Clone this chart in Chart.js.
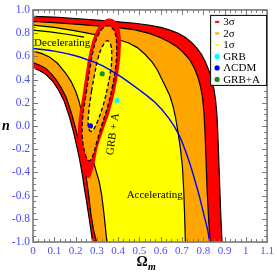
<!DOCTYPE html>
<html><head><meta charset="utf-8">
<script src="https://cdn.jsdelivr.net/npm/chart.js@4/dist/chart.umd.min.js"></script>
<style>html,body{margin:0;padding:0;background:#fff}#wrap{width:277px;height:274px}</style>
</head><body><div id="wrap"><canvas id="c" width="277" height="274"></canvas></div>
<script>
// ---- tick labels ----
const xTickLabels = ['0','0.1','0.2','0.3','0.4','0.5','0.6','0.7','0.8','0.9','1','1.1'];
const yTickLabels = ['-1.0','-0.8','-0.6','-0.4','-0.2','0.0','0.2','0.4','0.6','0.8','1.0'];
const legendLabels = ['3σ','2σ','1σ','GRB','ΛCDM','GRB+A'];

// ---- GRB-only confidence contours [Omega_m, n] ----
// upper-right boundaries (from Omega=0 down to n=-1)
const grbUpper3 = [[0,0.945],[0.1,0.937],[0.2,0.926],[0.3,0.912],[0.4,0.897],[0.48,0.885],[0.55,0.868],[0.6,0.85],[0.64,0.828],[0.68,0.80],[0.715,0.764],[0.745,0.72],[0.77,0.67],[0.792,0.615],[0.81,0.55],[0.826,0.48],[0.839,0.41],[0.85,0.32],[0.858,0.22],[0.864,0.1],[0.868,-0.05],[0.872,-0.25],[0.877,-0.5],[0.882,-0.75],[0.888,-1.0]];
const grbUpper2 = [[0,0.90],[0.1,0.89],[0.2,0.877],[0.3,0.862],[0.4,0.848],[0.48,0.828],[0.55,0.795],[0.6,0.76],[0.636,0.728],[0.67,0.69],[0.7,0.645],[0.72,0.605],[0.74,0.56],[0.76,0.49],[0.775,0.42],[0.787,0.34],[0.796,0.25],[0.803,0.12],[0.808,-0.05],[0.813,-0.3],[0.818,-0.55],[0.825,-0.8],[0.832,-1.0]];
const grbUpper1 = [[0,0.868],[0.1,0.85],[0.2,0.82],[0.3,0.785],[0.4,0.745],[0.45,0.715],[0.49,0.675],[0.525,0.62],[0.56,0.55],[0.585,0.48],[0.606,0.40],[0.625,0.33],[0.643,0.26],[0.658,0.17],[0.67,0.07],[0.681,-0.05],[0.693,-0.2],[0.702,-0.35],[0.708,-0.55],[0.712,-0.75],[0.716,-1.0]];
const grbUpperInner = [[0,0.825],[0.08,0.81],[0.16,0.79],[0.24,0.765]];
// lower-left boundaries (from Omega=0 down to n=-1)
const grbLower3 = [[0,0.50],[0.03,0.478],[0.06,0.445],[0.093,0.385],[0.12,0.31],[0.145,0.22],[0.17,0.085],[0.19,-0.05],[0.205,-0.17],[0.218,-0.28],[0.23,-0.4],[0.24,-0.52],[0.25,-0.63],[0.26,-0.75],[0.27,-0.87],[0.28,-1.0]];
const grbLower2 = [[0,0.545],[0.03,0.525],[0.06,0.495],[0.085,0.45],[0.108,0.40],[0.132,0.33],[0.155,0.25],[0.172,0.16],[0.186,0.075],[0.2,-0.02],[0.213,-0.12],[0.225,-0.22],[0.237,-0.32],[0.25,-0.44],[0.262,-0.6],[0.272,-0.76],[0.285,-0.9],[0.298,-1.0]];
const grbLower1 = [[0,0.645],[0.04,0.625],[0.077,0.595],[0.115,0.54],[0.155,0.45],[0.18,0.38],[0.201,0.297],[0.215,0.22],[0.226,0.14],[0.236,0.05],[0.247,-0.05],[0.26,-0.15],[0.275,-0.25],[0.292,-0.36],[0.311,-0.48],[0.323,-0.6],[0.333,-0.75],[0.34,-0.87],[0.347,-1.0]];

// ---- GRB + A closed contours ----
const combo3 = [[0.232,0.257],[0.252,0.5],[0.267,0.65],[0.29,0.79],[0.32,0.88],[0.355,0.925],[0.392,0.895],[0.41,0.8],[0.412,0.65],[0.404,0.5],[0.385,0.3],[0.36,0.12],[0.332,-0.03],[0.305,-0.18],[0.285,-0.35],[0.262,-0.45],[0.235,-0.37],[0.215,-0.2],[0.212,0.0]];
const combo2 = [[0.25,0.28],[0.268,0.5],[0.283,0.65],[0.303,0.77],[0.33,0.845],[0.357,0.862],[0.384,0.81],[0.393,0.68],[0.389,0.52],[0.372,0.33],[0.348,0.15],[0.322,0.0],[0.298,-0.15],[0.278,-0.27],[0.262,-0.30],[0.245,-0.24],[0.232,-0.1],[0.234,0.08]];
const combo1 = [[0.275,0.3],[0.29,0.45],[0.305,0.58],[0.325,0.68],[0.348,0.735],[0.365,0.7],[0.37,0.6],[0.365,0.48],[0.35,0.33],[0.33,0.18],[0.305,0.05],[0.285,-0.03],[0.27,-0.045],[0.26,-0.01],[0.262,0.12]];

// ---- q = 0 (decelerating / accelerating) line ----
const decelLine = [[0,0.668],[0.1,0.645],[0.2,0.605],[0.257,0.57],[0.325,0.52],[0.4,0.44],[0.5,0.31],[0.575,0.2],[0.637,0.07],[0.684,-0.07],[0.729,-0.28],[0.775,-0.56],[0.805,-0.78],[0.821,-0.9],[0.83,-1.0]];

// ---- best-fit points ----
const grbBest = [0.395, 0.22];
const lcdmPoint = [0.27, 0.0];
const comboBest = [0.325, 0.45];

const RED='#ff0000', ORANGE='#ffa500', YELLOW='#ffff00';
const CYAN='#00ffff', BLUE='#0000ff', GREEN='#1a8c1a';
const TICKCOL='#4b4bff';
const SERIF='"Liberation Serif","DejaVu Serif",serif';

const pts = a => a.map(([x,y]) => ({x, y}));
const band = (low, up) => pts(low.concat(up.slice().reverse(), [low[0]]));
const loop = a => pts(a.concat([a[0]]));

const fillDs = (data, color, order, tension) => ({data, fill:'shape', backgroundColor:color, borderColor:'rgba(0,0,0,0)', borderWidth:0, pointRadius:0, tension:tension||0, order});
const lineDs = (data, color, width, order, dash, tension) => ({data, fill:false, borderColor:color, borderWidth:width, borderDash:dash||[], pointRadius:0, tension:tension||0, order});
const ptDs = (p, color, order) => ({data:[{x:p[0], y:p[1]}], showLine:false, pointRadius:2.6, pointBackgroundColor:color, pointBorderColor:color, pointBorderWidth:0, order});

const datasets = [
  fillDs(band(grbLower3, grbUpper3), RED, 100),
  fillDs(band(grbLower2, grbUpper2), ORANGE, 99),
  fillDs(band(grbLower1, grbUpper1), YELLOW, 98),
  lineDs(pts(grbUpper3), '#000', 1.2, 97),
  lineDs(pts(grbUpper2), '#000', 1.2, 97),
  lineDs(pts(grbUpper1), '#000', 1.2, 97),
  lineDs(pts(grbUpperInner), '#000', 1.2, 97),
  lineDs(pts(grbLower3), '#000', 1.2, 97),
  lineDs(pts(grbLower2), '#000', 1.2, 97),
  lineDs(pts(grbLower1), '#000', 1.2, 97),
  fillDs(loop(combo3), RED, 90, 0.4),
  Object.assign(fillDs(loop(combo2), ORANGE, 89, 0.4), {borderColor:'#000', borderWidth:1.3, borderDash:[4,2.5]}),
  Object.assign(fillDs(loop(combo1), YELLOW, 88, 0.4), {borderColor:'#000', borderWidth:1.3, borderDash:[4,2.5]}),
  lineDs(pts(decelLine), BLUE, 1.4, 80, null, 0.3),
  ptDs(grbBest, CYAN, 72),
  ptDs(lcdmPoint, BLUE, 71),
  ptDs(comboBest, GREEN, 70)
];

const legendItems = [
  {label:legendLabels[0], color:RED, kind:'dash'},
  {label:legendLabels[1], color:ORANGE, kind:'dash'},
  {label:legendLabels[2], color:YELLOW, kind:'dash'},
  {label:legendLabels[3], color:CYAN, kind:'dot'},
  {label:legendLabels[4], color:BLUE, kind:'dot'},
  {label:legendLabels[5], color:GREEN, kind:'dot'}
];

const deco = {
  id:'deco',
  afterDatasetsDraw(chart){
    const {ctx, chartArea:a, scales:{x, y}} = chart;
    ctx.save();
    // texts inside plot
    ctx.fillStyle = '#000';
    ctx.font = '11px ' + SERIF;
    ctx.textBaseline = 'alphabetic';
    ctx.textAlign = 'left';
    ctx.fillText('Decelerating', x.getPixelForValue(0.005), y.getPixelForValue(0.688));
    ctx.fillText('Accelerating', x.getPixelForValue(0.44), y.getPixelForValue(-0.62));
    ctx.save();
    ctx.translate(x.getPixelForValue(0.376), y.getPixelForValue(-0.07));
    ctx.rotate(-82 * Math.PI / 180);
    ctx.textAlign = 'center'; ctx.textBaseline = 'middle';
    ctx.fillText('GRB + A', 0, 0);
    ctx.restore();

    // frame + inward ticks
    ctx.strokeStyle = '#7a7a7a';
    ctx.lineWidth = 1;
    ctx.beginPath();
    for (let i = 0; i <= 44; i++) {
      const px = Math.round(x.getPixelForValue(i * 0.025)) + 0.5;
      const len = (i % 4 === 0) ? 5 : 3;
      ctx.moveTo(px, a.bottom); ctx.lineTo(px, a.bottom - len);
      ctx.moveTo(px, a.top); ctx.lineTo(px, a.top + len);
    }
    for (let i = 0; i <= 40; i++) {
      const py = Math.round(y.getPixelForValue(-1 + i * 0.05)) + 0.5;
      const len = (i % 4 === 0) ? 5 : 3;
      ctx.moveTo(a.left, py); ctx.lineTo(a.left + len, py);
      ctx.moveTo(a.right, py); ctx.lineTo(a.right - len, py);
    }
    ctx.stroke();
    ctx.lineWidth = 1.6;
    ctx.strokeRect(a.left, a.top, a.right - a.left, a.bottom - a.top);

    // legend
    const bw = 56, bh = 70;
    const bx = a.right - bw - 1, by = a.top + 5;
    ctx.fillStyle = '#fff';
    ctx.fillRect(bx, by, bw, bh);
    ctx.strokeStyle = '#000'; ctx.lineWidth = 1;
    ctx.strokeRect(bx + 0.5, by + 0.5, bw, bh);
    ctx.font = '11px ' + SERIF;
    ctx.textAlign = 'left'; ctx.textBaseline = 'middle';
    legendItems.forEach((it, i) => {
      const cy = by + 7 + i * 11.5;
      const sx = bx + 7;
      ctx.fillStyle = it.color;
      if (it.kind === 'dash') ctx.fillRect(sx - 2, cy - 1, 4, 2);
      else { ctx.beginPath(); ctx.arc(sx, cy, 2.6, 0, Math.PI * 2); ctx.fill(); }
      ctx.fillStyle = '#000';
      ctx.fillText(it.label, bx + 13, cy + 0.5);
    });

    // axis titles
    ctx.fillStyle = '#000';
    ctx.font = 'bold 14px ' + SERIF;
    ctx.textAlign = 'center'; ctx.textBaseline = 'alphabetic';
    const cx = (a.left + a.right) / 2;
    ctx.fillText('Ω', cx - 8, 266);
    ctx.font = 'italic bold 10px ' + SERIF;
    ctx.textAlign = 'left';
    ctx.fillText('m', cx - 2, 270);
    ctx.font = 'italic bold 14px ' + SERIF;
    ctx.textAlign = 'center';
    ctx.fillText('n', 6, (a.top + a.bottom) / 2 + 4);
    ctx.restore();
  }
};

new Chart(document.getElementById('c'), {
  type: 'line',
  data: { datasets },
  options: {
    responsive: false,
    animation: false,
    devicePixelRatio: 1,
    layout: { padding: { top: 5, right: 7, left: 0, bottom: 0 } },
    plugins: { legend: { display: false }, tooltip: { enabled: false } },
    scales: {
      x: {
        type: 'linear', min: 0, max: 1.1,
        afterBuildTicks: s => { s.ticks = xTickLabels.map(t => ({ value: parseFloat(t) })); },
        ticks: { autoSkip: false, maxRotation: 0, padding: 3, color: TICKCOL, font: { family: SERIF, size: 11 }, callback: (v, i) => xTickLabels[i] },
        grid: { display: false, drawTicks: false },
        border: { display: false },
        afterFit: s => { s.height = 32; }
      },
      y: {
        type: 'linear', min: -1, max: 1,
        afterBuildTicks: s => { s.ticks = yTickLabels.map(t => ({ value: parseFloat(t) })); },
        ticks: { autoSkip: false, padding: 3, color: TICKCOL, font: { family: SERIF, size: 11.5 }, callback: (v, i) => yTickLabels[i] },
        grid: { display: false, drawTicks: false },
        border: { display: false },
        afterFit: s => { s.width = 33; }
      }
    }
  },
  plugins: [deco]
});
</script>
</body></html>
